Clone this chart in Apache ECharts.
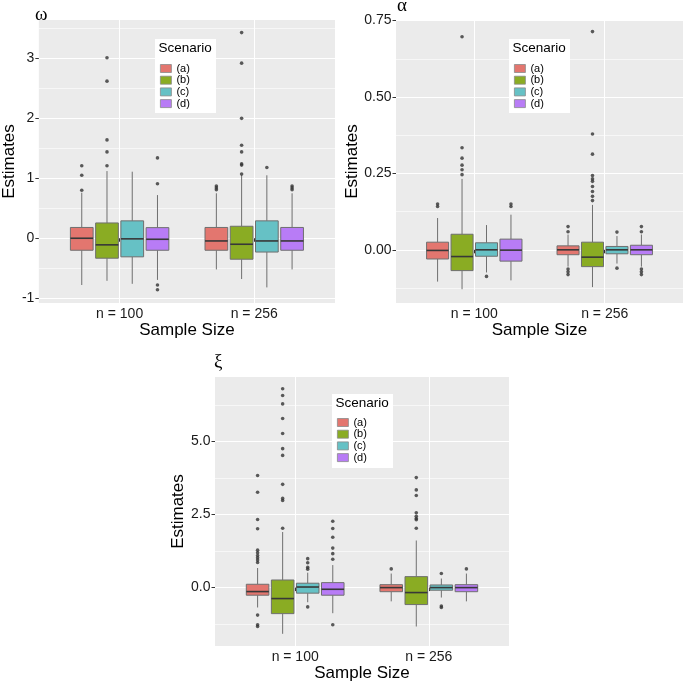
<!DOCTYPE html>
<html><head><meta charset="utf-8">
<script src="https://cdn.jsdelivr.net/npm/echarts@6/dist/echarts.min.js"></script>
<style>html,body{margin:0;padding:0;background:#fff}#c{width:685px;height:683px}</style>
</head><body><div id="c"></div>
<script>
// ---------- data ----------
const sampleSizes = ['n = 100', 'n = 256'];
const scenarios = ['(a)', '(b)', '(c)', '(d)'];
const scenarioColors = ['#E3766F', '#8AAC23', '#66C1C5', '#B87CF6'];
const panelTitles = ['ω', 'α', 'ξ'];

// box stats per sample size: [lower whisker, Q1, median, Q3, upper whisker]
const omegaA = [[-0.78, -0.20, 0.00, 0.18, 0.76], [-0.52, -0.20, -0.045, 0.18, 0.75]];
const omegaB = [[-0.71, -0.333, -0.11, 0.255, 1.12], [-0.68, -0.35, -0.10, 0.20, 1.05]];
const omegaC = [[-0.76, -0.31, -0.01, 0.29, 1.11], [-0.82, -0.23, -0.045, 0.29, 1.05]];
const omegaD = [[-0.695, -0.20, -0.017, 0.177, 0.72], [-0.52, -0.20, -0.045, 0.18, 0.75]];
const omegaOutA = [[1.21, 1.05, 0.80], [0.87, 0.84, 0.81]];
const omegaOutB = [[3.01, 2.62, 1.64, 1.44, 1.21], [3.43, 2.92, 2.0, 1.55, 1.44, 1.24, 1.22, 1.07]];
const omegaOutC = [[], [1.18]];
const omegaOutD = [[1.34, 0.91, -0.78, -0.86], [0.87, 0.84, 0.81]];

const alphaA = [[-0.104, -0.03, -0.002, 0.025, 0.104], [-0.055, -0.016, 0.0, 0.013, 0.05]];
const alphaB = [[-0.129, -0.068, -0.022, 0.051, 0.232], [-0.122, -0.055, -0.024, 0.025, 0.147]];
const alphaC = [[-0.074, -0.021, 0.0, 0.023, 0.081], [-0.045, -0.013, 0.0, 0.011, 0.045]];
const alphaD = [[-0.10, -0.037, -0.001, 0.035, 0.115], [-0.055, -0.016, 0.0, 0.015, 0.05]];
const alphaOutA = [[0.15, 0.142], [0.076, 0.059, -0.063, -0.072, -0.081]];
const alphaOutB = [[0.697, 0.334, 0.30, 0.277, 0.262, 0.246], [0.714, 0.379, 0.313, 0.243, 0.232, 0.224, 0.207, 0.191, 0.175, 0.161]];
const alphaOutC = [[-0.087], [0.058, -0.06]];
const alphaOutD = [[0.15, 0.142], [0.076, 0.059, -0.063, -0.072, -0.081]];

const xiA = [[-0.68, -0.26, -0.136, 0.114, 0.67], [-0.47, -0.14, 0.0, 0.10, 0.48]];
const xiB = [[-1.58, -0.89, -0.375, 0.26, 1.9], [-1.33, -0.58, -0.17, 0.375, 1.61]];
const xiC = [[-0.5, -0.19, 0.02, 0.15, 0.51], [-0.34, -0.09, 0.0, 0.09, 0.31]];
const xiD = [[-0.875, -0.26, -0.057, 0.17, 0.77], [-0.47, -0.14, 0.0, 0.10, 0.48]];
const xiOutA = [[3.83, 3.26, 2.33, 2.01, 1.28, 1.19, 1.10, 1.02, 0.94, 0.86, -0.94, -1.27, -1.33], [0.64]];
const xiOutB = [[6.8, 6.57, 6.28, 5.78, 5.27, 4.75, 4.52, 3.53, 3.05, 2.98, 2.03], [3.76, 3.34, 3.15, 2.56, 2.44, 2.36, 2.32, 2.03]];
const xiOutC = [[0.99, 0.85, 0.69, 0.63, -0.66], [0.48, -0.63, -0.68]];
const xiOutD = [[2.27, 2.02, 1.72, 1.35, 1.16, 0.97, -1.27], [0.64]];

// axis tick values / labels
const omegaTicks = [-1, 0, 1, 2, 3];
const omegaTickLabels = ['-1', '0', '1', '2', '3'];
const omegaMinor = [-0.5, 0.5, 1.5, 2.5, 3.5];
const alphaTicks = [0, 0.25, 0.5, 0.75];
const alphaTickLabels = ['0.00', '0.25', '0.50', '0.75'];
const alphaMinor = [-0.125, 0.125, 0.375, 0.625];
const xiTicks = [0, 2.5, 5];
const xiTickLabels = ['0.0', '2.5', '5.0'];
const xiMinor = [-1.25, 1.25, 3.75, 6.25];

// ---------- layout ----------
const panels = [
  { box: [omegaA, omegaB, omegaC, omegaD], out: [omegaOutA, omegaOutB, omegaOutC, omegaOutD],
    ticks: omegaTicks, labels: omegaTickLabels, minor: omegaMinor, ymin: -1.08, ymax: 3.64,
    grid: { left: 35, top: 20, width: 300, height: 283 }, nameGap: 9,
    legendBox: [155, 39], legendPos: [160, 63], title: [35, 15] },
  { box: [alphaA, alphaB, alphaC, alphaD], out: [alphaOutA, alphaOutB, alphaOutC, alphaOutD],
    ticks: alphaTicks, labels: alphaTickLabels, minor: alphaMinor, ymin: -0.174, ymax: 0.752,
    grid: { left: 396, top: 20, width: 287, height: 283 }, nameGap: 31,
    legendBox: [509, 39], legendPos: [514, 63], title: [397, 6] },
  { box: [xiA, xiB, xiC, xiD], out: [xiOutA, xiOutB, xiOutC, xiOutD],
    ticks: xiTicks, labels: xiTickLabels, minor: xiMinor, ymin: -2.0, ymax: 7.2,
    grid: { left: 215, top: 377, width: 294, height: 270 }, nameGap: 23,
    legendBox: [332, 394], legendPos: [337, 417], title: [214, 362] }
];

const DODGE = 0.75;
const SLOT = DODGE / scenarios.length;
const BOX_W = SLOT * 0.9;
const offsetOf = s => (s - (scenarios.length - 1) / 2) * SLOT;

const FONT = '"Liberation Sans", Arial, sans-serif';
const LINE_GREY = '#6f6f6f';

function renderBox(params, api) {
  const x = api.value(0);
  const lo = api.coord([x, api.value(1)]);
  const q1 = api.coord([x, api.value(2)]);
  const md = api.coord([x, api.value(3)]);
  const q3 = api.coord([x, api.value(4)]);
  const hi = api.coord([x, api.value(5)]);
  const w = api.size([BOX_W, 0])[0];
  const fill = api.visual('color');
  return {
    type: 'group',
    children: [
      { type: 'line', shape: { x1: hi[0], y1: hi[1], x2: q3[0], y2: q3[1] }, style: { stroke: LINE_GREY, lineWidth: 1 } },
      { type: 'line', shape: { x1: lo[0], y1: lo[1], x2: q1[0], y2: q1[1] }, style: { stroke: LINE_GREY, lineWidth: 1 } },
      { type: 'rect', shape: { x: q3[0] - w / 2, y: q3[1], width: w, height: q1[1] - q3[1] },
        style: { fill: fill, stroke: LINE_GREY, lineWidth: 1 } },
      { type: 'line', shape: { x1: md[0] - w / 2, y1: md[1], x2: md[0] + w / 2, y2: md[1] },
        style: { stroke: '#383838', lineWidth: 1.6 } }
    ]
  };
}

const grid = [], xAxis = [], yAxis = [], series = [], legend = [], graphic = [];

panels.forEach((p, pi) => {
  grid.push(Object.assign({ show: true, backgroundColor: '#EBEBEB', borderWidth: 0 }, p.grid));
  xAxis.push({
    type: 'value', gridIndex: pi, min: 0.4, max: 2.6,
    name: 'Sample Size', nameLocation: 'middle', nameGap: 16,
    nameTextStyle: { fontSize: 17, fontFamily: FONT, color: '#000' },
    axisLine: { show: false },
    axisTick: { show: true, length: 3.5, customValues: [1, 2], lineStyle: { color: '#333', width: 1 } },
    axisLabel: { customValues: [1, 2], margin: 4, fontSize: 14, fontFamily: FONT, color: '#1a1a1a',
      formatter: v => sampleSizes[Math.round(v) - 1] },
    splitLine: { show: true, lineStyle: { color: '#FFFFFF', width: 1 } }
  });
  yAxis.push({
    type: 'value', gridIndex: pi, min: p.ymin, max: p.ymax,
    name: 'Estimates', nameLocation: 'middle', nameGap: p.nameGap,
    nameTextStyle: { fontSize: 17, fontFamily: FONT, color: '#000' },
    axisLine: { show: false },
    axisTick: { show: true, length: 3.5, customValues: p.ticks, lineStyle: { color: '#333', width: 1 } },
    axisLabel: { customValues: p.ticks, margin: 4.5, fontSize: 14, fontFamily: FONT, color: '#1a1a1a',
      formatter: v => p.labels[p.ticks.findIndex(t => Math.abs(t - v) < 1e-9)] },
    splitLine: { show: true, lineStyle: { color: '#FFFFFF', width: 1.1 } }
  });
  yAxis.push({
    type: 'value', gridIndex: pi, min: p.ymin, max: p.ymax, position: 'left',
    axisLine: { show: false }, axisLabel: { show: false },
    axisTick: { show: false, customValues: p.minor },
    splitLine: { show: true, lineStyle: { color: '#FFFFFF', width: 0.6 } }
  });

  scenarios.forEach((name, s) => {
    series.push({
      type: 'custom', name: name, xAxisIndex: pi, yAxisIndex: pi * 2,
      itemStyle: { color: scenarioColors[s] },
      renderItem: renderBox,
      encode: { x: 0, y: [1, 2, 3, 4, 5] },
      data: p.box[s].map((st, c) => [c + 1 + offsetOf(s)].concat(st)),
      z: 2
    });
  });
  scenarios.forEach((name, s) => {
    const pts = [];
    p.out[s].forEach((vals, c) => vals.forEach(v => pts.push([c + 1 + offsetOf(s), v])));
    series.push({
      type: 'scatter', name: name, xAxisIndex: pi, yAxisIndex: pi * 2,
      symbol: 'circle', symbolSize: 3.6,
      itemStyle: { color: '#333333' }, data: pts, z: 3, silent: true
    });
  });

  legend.push({
    data: scenarios, orient: 'vertical', left: p.legendPos[0], top: p.legendPos[1],
    icon: 'rect', itemWidth: 11, itemHeight: 8, itemGap: 0.7, padding: 0,
    itemStyle: { borderColor: '#8a8a8a', borderWidth: 0.8 },
    textStyle: { fontSize: 11, fontFamily: FONT, color: '#000', lineHeight: 11 },
    selectedMode: false, z: 6
  });
  graphic.push({ type: 'rect', shape: { x: p.legendBox[0], y: p.legendBox[1], width: 61, height: 74 },
    style: { fill: '#FFFFFF' }, z: 4 });
  graphic.push({ type: 'text', x: p.legendBox[0] + 3.5, y: p.legendBox[1] + 2.5, z: 5,
    style: { text: 'Scenario', fontSize: 13.5, fontFamily: FONT, fill: '#000', verticalAlign: 'top' } });
  graphic.push({ type: 'text', x: p.title[0], y: p.title[1], z: 5,
    style: { text: panelTitles[pi], fontSize: 19, fontFamily: '"Liberation Serif", "DejaVu Serif", serif',
      fill: '#000', verticalAlign: 'middle', align: 'left' } });
});

const chart = echarts.init(document.getElementById('c'), null, { renderer: 'canvas' });
chart.setOption({
  animation: false,
  backgroundColor: '#FFFFFF',
  grid, xAxis, yAxis, series, legend, graphic
});
</script>
</body></html>
